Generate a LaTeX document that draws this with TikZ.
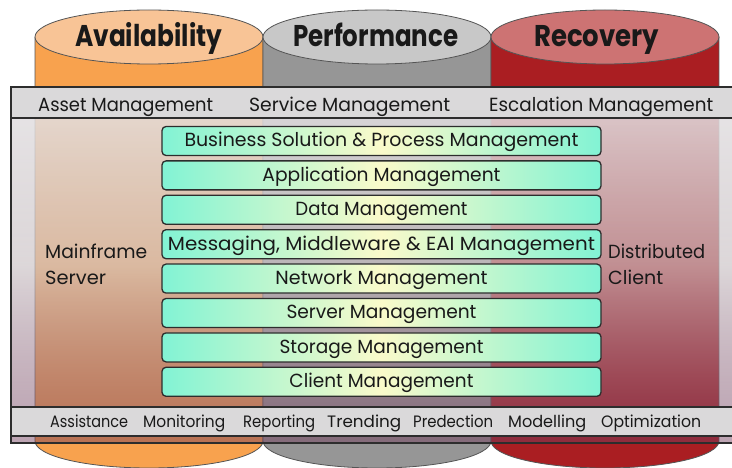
\documentclass[tikz,border=0pt]{standalone}
\usepackage{fontspec}
\setmainfont{Poppins}
\usetikzlibrary{fadings}
\definecolor{orbody}{RGB}{248,162,78}
\definecolor{ortop}{RGB}{248,196,150}
\definecolor{grbody}{RGB}{150,150,150}
\definecolor{grtop}{RGB}{200,200,200}
\definecolor{rdbody}{RGB}{170,30,34}
\definecolor{rdtop}{RGB}{205,115,115}
\definecolor{cyledge}{RGB}{85,85,85}
\definecolor{txt}{RGB}{25,25,25}
\definecolor{bandfill}{RGB}{218,217,218}
\definecolor{panelA}{RGB}{230,228,230}
\definecolor{panelB}{RGB}{205,197,200}
\definecolor{panelC}{RGB}{113,59,91}
\definecolor{aqua}{RGB}{130,243,212}
\definecolor{paleyel}{RGB}{250,250,202}
\definecolor{boxedge}{RGB}{45,45,45}
\tikzfading[name=panelfade, top color=transparent!10, middle color=transparent!40, bottom color=transparent!54]
\newcommand\fitw[2]{\resizebox{#1pt}{\height}{#2}}
\begin{document}
\begin{tikzpicture}[x=1pt,y=-1pt,
  cyl edge/.style={draw=cyledge, line width=0.8pt},
  title/.style={anchor=base west, inner sep=0pt, text=txt, font=\fontsize{30}{30}\selectfont\bfseries},
  hdr/.style={anchor=base west, inner sep=0pt, text=txt, font=\fontsize{19}{19}\selectfont},
  side/.style={anchor=base west, inner sep=0pt, text=txt, font=\fontsize{19}{19}\selectfont},
  foot/.style={anchor=base west, inner sep=0pt, text=txt, font=\fontsize{16.5}{16.5}\selectfont},
  gbox/.style={draw=boxedge, line width=1.3pt, rounded corners=4pt,
    left color=aqua, right color=aqua, middle color=paleyel,
    minimum width=439pt, minimum height=29pt, inner sep=0pt,
    text height=15pt, text depth=3pt, text=txt, font=\fontsize{19}{19}\selectfont},
  band/.style={fill=bandfill, draw=boxedge, line width=1.2pt}]
\useasboundingbox (0,0) rectangle (732,468);
\clip (0,0) rectangle (732,468);
\fill[white] (0,0) rectangle (732,468);
% cylinders
\foreach \xl/\bc/\tc in {35/orbody/ortop, 263/grbody/grtop, 491/rdbody/rdtop}{
  \fill[\bc] (\xl,37) rectangle (\xl+228,441);
  \fill[\bc] (\xl+114,441) ellipse[x radius=114pt, y radius=27pt];
  \draw[cyl edge] (\xl,37) -- (\xl,441) arc[start angle=180, end angle=360, x radius=114pt, y radius=27pt] -- (\xl+228,37);
  \filldraw[fill=\tc, cyl edge] (\xl+114,37) ellipse[x radius=114pt, y radius=27pt];
}
\node[title] (tA) at (75,47) {\fitw{147}{Availability}};
\node[title] (tP) at (293,47) {\fitw{165}{Performance}};
\node[title] (tR) at (534,47) {\fitw{125}{Recovery}};
% translucent panel
\shade[top color=panelA, bottom color=panelC, middle color=panelB, path fading=panelfade] (11,87) rectangle (732,443);
\draw[draw=boxedge, line width=1.2pt] (11,87) rectangle (733,443);
% header band
\filldraw[band] (11,87) rectangle (733,118);
\node[hdr] (h1) at (38,111.5) {\fitw{175}{Asset Management}};
\node[hdr] (h2) at (249,111.5) {\fitw{201}{Service Management}};
\node[hdr] (h3) at (489,111.5) {\fitw{224}{Escalation Management}};
% footer band
\filldraw[band] (11,407) rectangle (733,436);
\node[foot] (f1) at (50,427) {\fitw{78}{Assistance}};
\node[foot] (f2) at (143,427) {\fitw{82}{Monitoring}};
\node[foot] (f3) at (243,427) {\fitw{72}{Reporting}};
\node[foot] (f4) at (327,427) {\fitw{74}{Trending}};
\node[foot] (f5) at (413,427) {\fitw{80}{Predection}};
\node[foot] (f6) at (508,427) {\fitw{78}{Modelling}};
\node[foot] (f7) at (601,427) {\fitw{100}{Optimization}};
% side labels
\node[side] (s1) at (45,259) {\fitw{102}{Mainframe}};
\node[side] (s2) at (45,285) {\fitw{61}{Server}};
\node[side] (s3) at (608,259) {\fitw{97}{Distributed}};
\node[side] (s4) at (608,285) {\fitw{55}{Client}};
% management boxes
\node[gbox] (b1) at (381.5,141.0) {\fitw{394}{Business Solution \& Process Management}};
\node[gbox] (b2) at (381.5,175.4) {\fitw{238}{Application Management}};
\node[gbox] (b3) at (381.5,209.8) {\fitw{172}{Data Management}};
\node[gbox] (b4) at (381.5,244.2) {\fitw{427}{Messaging, Middleware \& EAI Management}};
\node[gbox] (b5) at (381.5,278.6) {\fitw{212}{Network Management}};
\node[gbox] (b6) at (381.5,313.0) {\fitw{190}{Server Management}};
\node[gbox] (b7) at (381.5,347.4) {\fitw{204}{Storage Management}};
\node[gbox] (b8) at (381.5,381.8) {\fitw{184}{Client Management}};
\end{tikzpicture}
\end{document}
